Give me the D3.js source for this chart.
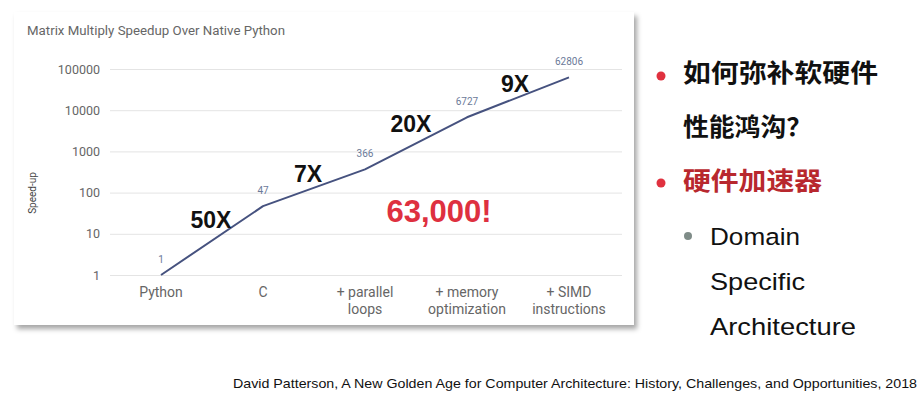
<!DOCTYPE html>
<html>
<head>
<meta charset="utf-8">
<script src="https://cdn.jsdelivr.net/npm/d3@7"></script>
<style>
  body { margin: 0; background: #fff; }
  svg { display: block; }
</style>
</head>
<body>
<svg width="923" height="397"></svg>
<script>
// chart data
var categories = [["Python"], ["C"], ["+ parallel", "loops"], ["+ memory", "optimization"], ["+ SIMD", "instructions"]];
var speedup = [1, 47, 366, 6727, 62806];
var yTicks = [1, 10, 100, 1000, 10000, 100000];
var stepLabels = ["50X", "7X", "20X", "9X"];
var bullets = [["如何弥补软硬件", "性能鸿沟？"], ["硬件加速器"]];
var subBullet = ["Domain", "Specific", "Architecture"];

var svg = d3.select("svg");

var defs = svg.append("defs");
var f = defs.append("filter").attr("id", "shadow").attr("x", "-5%").attr("y", "-5%").attr("width", "112%").attr("height", "115%");
f.append("feDropShadow").attr("dx", 3).attr("dy", 4).attr("stdDeviation", 2.5).attr("flood-color", "#000").attr("flood-opacity", 0.35);

// card
svg.append("rect")
    .attr("x", 14).attr("y", 12)
    .attr("width", 620).attr("height", 313)
    .attr("fill", "#fff")
    .attr("filter", "url(#shadow)");

svg.append("text")
    .attr("x", 27).attr("y", 35)
    .attr("textLength", 258).attr("lengthAdjust", "spacingAndGlyphs")
    .style("font", "12.5px Roboto, sans-serif")
    .attr("fill", "#666")
    .text("Matrix Multiply Speedup Over Native Python");

var xScale = d3.scalePoint().domain(d3.range(categories.length)).range([110, 620]).padding(0.5),
    yScale = d3.scaleLog().domain([1, 100000]).range([275, 69]);

var g = svg.append("g");

// grid + y axis
var yAxis = d3.axisLeft(yScale).tickValues(yTicks).tickFormat(d3.format("d")).tickSize(-512).tickPadding(10);
var gY = g.append("g").attr("transform", "translate(110,0)").call(yAxis);
gY.select(".domain").remove();
gY.selectAll("line").attr("stroke", "#e4e4e4");
gY.selectAll("text").style("font", "12.5px Roboto, sans-serif").attr("fill", "#666");

g.append("text")
    .attr("transform", "translate(36,193) rotate(-90)")
    .attr("text-anchor", "middle")
    .style("font", "10px Roboto, sans-serif")
    .attr("fill", "#444")
    .text("Speed-up");

// x labels
var xl = g.selectAll(".xl").data(categories).enter().append("text")
    .attr("class", "xl")
    .attr("text-anchor", "middle")
    .attr("x", function (d, i) { return xScale(i); })
    .attr("y", 297)
    .style("font", "14px Roboto, sans-serif")
    .attr("fill", "#666");
xl.selectAll("tspan").data(function (d) { return d; }).enter().append("tspan")
    .attr("x", function () { return d3.select(this.parentNode).attr("x"); })
    .attr("dy", function (d, j) { return j ? 16.5 : 0; })
    .text(function (d) { return d; });

// line
var line = d3.line()
    .x(function (d, i) { return xScale(i); })
    .y(function (d) { return yScale(d); });

g.append("path")
    .datum(speedup)
    .attr("d", line)
    .attr("fill", "none")
    .attr("stroke", "#46527f")
    .attr("stroke-width", 2)
    .attr("stroke-linejoin", "round");

g.selectAll(".vl").data(speedup).enter().append("text")
    .attr("class", "vl")
    .attr("text-anchor", "middle")
    .attr("x", function (d, i) { return xScale(i); })
    .attr("y", function (d) { return yScale(d) - 12; })
    .style("font", "10px Roboto, sans-serif")
    .attr("fill", "#6b7a99")
    .text(function (d) { return d; });

// step annotations between points
var stepOffsets = [[-1, -13], [-6, -6], [-5, -11], [-3, -5]];
g.selectAll(".step").data(stepLabels).enter().append("text")
    .attr("class", "step")
    .attr("text-anchor", "middle")
    .attr("x", function (d, i) { return (xScale(i) + xScale(i + 1)) / 2 + stepOffsets[i][0]; })
    .attr("y", function (d, i) { return (yScale(speedup[i]) + yScale(speedup[i + 1])) / 2 + stepOffsets[i][1]; })
    .style("font", "bold 23px 'Liberation Sans', Arial, sans-serif")
    .attr("fill", "#111")
    .text(function (d) { return d; });

g.append("text")
    .attr("x", 439).attr("y", 222)
    .attr("text-anchor", "middle")
    .style("font", "bold 31px 'Liberation Sans', Arial, sans-serif")
    .attr("fill", "#de3040")
    .text("63,000!");

// right-side bullets
var bulletY = [[82, 136], [190]];
var bulletDot = [76, 183];
var bulletLen = [[195, 129], [139]];
var bulletColor = ["#111", "#b8282e"];
bullets.forEach(function (lines, i) {
    svg.append("circle").attr("cx", 661).attr("cy", bulletDot[i]).attr("r", 4.5).attr("fill", "#e0313f");
    lines.forEach(function (t, j) {
        svg.append("text")
            .attr("x", 683).attr("y", bulletY[i][j])
            .attr("textLength", bulletLen[i][j]).attr("lengthAdjust", "spacingAndGlyphs")
            .style("font", "bold 25px 'Noto Sans CJK SC', sans-serif")
            .attr("fill", bulletColor[i])
            .text(t);
    });
});

var subLen = [90, 95, 146];
svg.append("circle").attr("cx", 688).attr("cy", 236).attr("r", 4).attr("fill", "#7f8c88");
subBullet.forEach(function (t, j) {
    svg.append("text")
        .attr("x", 710).attr("y", 245 + j * 45)
        .attr("textLength", subLen[j]).attr("lengthAdjust", "spacingAndGlyphs")
        .style("font", "24.5px 'Liberation Sans', Arial, sans-serif")
        .attr("fill", "#111")
        .text(t);
});

svg.append("text")
    .attr("x", 917).attr("y", 388)
    .attr("text-anchor", "end")
    .attr("textLength", 684).attr("lengthAdjust", "spacingAndGlyphs")
    .style("font", "13.5px 'Liberation Sans', Arial, sans-serif")
    .attr("fill", "#111")
    .text("David Patterson, A New Golden Age for Computer Architecture: History, Challenges, and Opportunities, 2018");
</script>
</body>
</html>
